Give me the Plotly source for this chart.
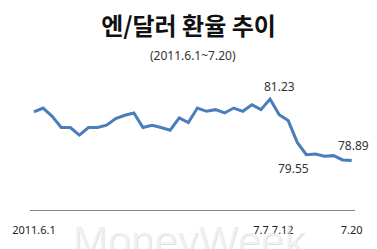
import plotly.graph_objects as go

# Daily yen/dollar rate, 2011.6.1 ~ 7.20 (36 trading days)
rates = [80.84, 80.96, 80.71, 80.37, 80.37, 80.14, 80.37, 80.37, 80.44, 80.64,
         80.74, 80.81, 80.37, 80.44, 80.37, 80.29, 80.66, 80.52, 80.96, 80.86,
         80.91, 80.81, 80.96, 80.86, 81.06, 80.91, 81.23, 80.76, 80.58, 79.92,
         79.55, 79.57, 79.50, 79.52, 79.39, 79.37]
days = list(range(len(rates)))

tick_pos = [0, 25, 27.4, 35]
tick_text = ["2011.6.1", "7.7", "7.12", "7.20"]

label_idx = [26, 30, 35]
label_text = ["81.23", "79.55", "78.89"]
label_shift = [(9, 13), (-13, -14), (2, 15)]

title = "엔/달러 환율 추이"
subtitle = "(2011.6.1~7.20)"
watermark = "MoneyWeek"

fig = go.Figure()
fig.add_trace(go.Scatter(
    x=days, y=rates, mode="lines",
    line=dict(color="#4A7EBB", width=3),
    hoverinfo="skip", showlegend=False,
))

for i, t, (dx, dy) in zip(label_idx, label_text, label_shift):
    fig.add_annotation(x=days[i], y=rates[i], text=t, showarrow=False,
                       xshift=dx, yshift=dy,
                       font=dict(family="Noto Sans", size=12, color="#333333"))

fig.add_annotation(xref="paper", yref="paper", x=0.5, y=1.236, text=subtitle,
                   showarrow=False, yanchor="middle",
                   font=dict(family="Noto Sans", size=12, color="#333333"))

fig.add_annotation(xref="paper", yref="paper", x=0.49, y=-0.24, text=watermark,
                   showarrow=False, yanchor="middle", xanchor="center",
                   opacity=0.8,
                   font=dict(family="Liberation Sans", size=42,
                             color="rgba(255,255,255,0.5)",
                             shadow="1px 1px 0px #b8b8b8"))

fig.update_layout(
    width=377, height=249,
    margin=dict(l=29, r=22, t=85, b=37),
    paper_bgcolor="white", plot_bgcolor="white",
    title=dict(text=title, x=0.5, xanchor="center", y=1 - 27 / 249, yanchor="middle",
               font=dict(family="Noto Sans CJK KR", size=24, color="#111111",
                         weight="bold")),
    xaxis=dict(range=[-0.44, 35.36], showline=True, linecolor="#868686", linewidth=1,
               showgrid=False, zeroline=False, ticks="", tickangle=0,
               tickvals=tick_pos, ticktext=tick_text, ticklabelstandoff=10,
               tickfont=dict(family="Noto Sans", size=11, color="#222222")),
    yaxis=dict(range=[77.876, 81.656], visible=False),
)

fig.write_html("out.html")
